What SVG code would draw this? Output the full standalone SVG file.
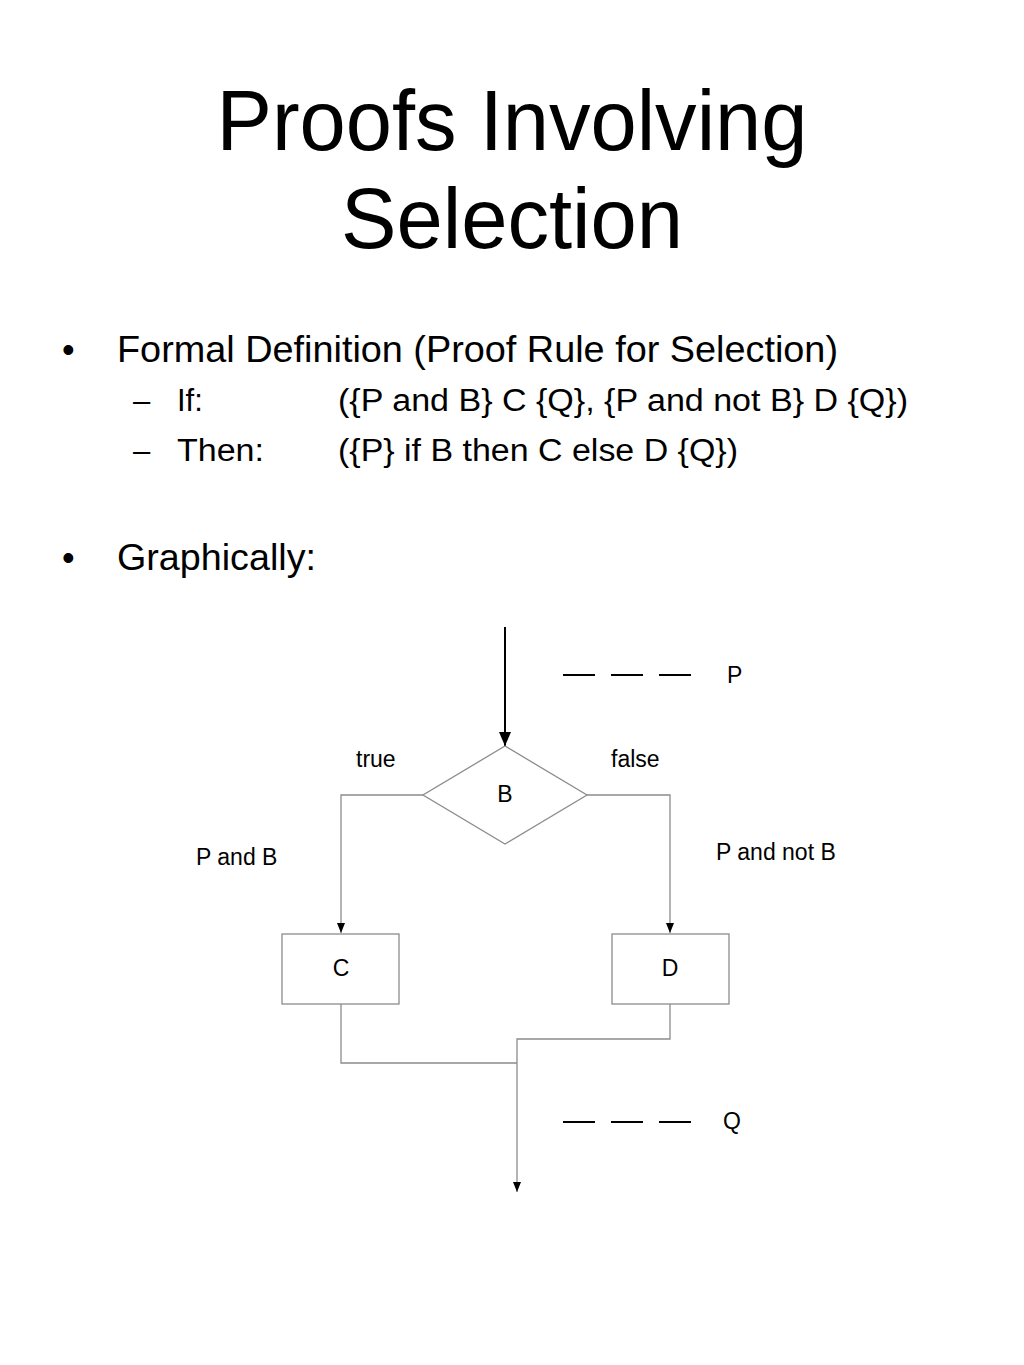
<svg xmlns="http://www.w3.org/2000/svg" width="1024" height="1365" viewBox="0 0 1024 1365">
<style>
text{font-family:"Liberation Sans",Arial,sans-serif;fill:#000}
.t{font-size:85px;text-anchor:middle}
.b1{font-size:36px}
.b2{font-size:31px}
.lbl{font-size:23px}
.ctr{text-anchor:middle}
.g{fill:none;stroke:#8c8c8c;stroke-width:1.3}
.box{fill:#fff;stroke:#8c8c8c;stroke-width:1.3}
.dash{stroke:#000;stroke-width:2}
</style>
<defs>
<marker id="big" markerWidth="12" markerHeight="14" refX="6" refY="14" markerUnits="userSpaceOnUse" viewBox="0 0 12 14">
<path d="M0,0 L12,0 L6,14 Z" fill="#000"/>
</marker>
<marker id="sm" markerWidth="8" markerHeight="10" refX="4" refY="10" markerUnits="userSpaceOnUse" viewBox="0 0 8 10">
<path d="M0,0 L8,0 L4,10 Z" fill="#000"/>
</marker>
</defs>
<rect width="1024" height="1365" fill="#fff"/>
<g id="title">
<text class="t" x="512" y="150" textLength="591" lengthAdjust="spacingAndGlyphs">Proofs Involving</text>
<text class="t" x="512" y="248" textLength="342" lengthAdjust="spacingAndGlyphs">Selection</text>
</g>
<g id="bullets">
<text class="b1" x="62" y="362">•</text>
<text class="b1" x="117" y="362" textLength="721" lengthAdjust="spacingAndGlyphs">Formal Definition (Proof Rule for Selection)</text>
<text class="b2" x="133" y="411">–</text>
<text class="b2" x="177" y="411">If:</text>
<text class="b2" x="338" y="411" textLength="570" lengthAdjust="spacingAndGlyphs">({P and B} C {Q}, {P and not B} D {Q})</text>
<text class="b2" x="133" y="461">–</text>
<text class="b2" x="177" y="461" textLength="87" lengthAdjust="spacingAndGlyphs">Then:</text>
<text class="b2" x="338" y="461" textLength="400" lengthAdjust="spacingAndGlyphs">({P} if B then C else D {Q})</text>
<text class="b1" x="62" y="570">•</text>
<text class="b1" x="117" y="570" textLength="199" lengthAdjust="spacingAndGlyphs">Graphically:</text>
</g>
<g id="connectors">
<line x1="505" y1="627" x2="505" y2="746" stroke="#000" stroke-width="2" marker-end="url(#big)"/>
<polyline class="g" points="423,795 341,795 341,933" marker-end="url(#sm)"/>
<polyline class="g" points="587,795 670,795 670,933" marker-end="url(#sm)"/>
<polyline class="g" points="341,1004 341,1063 517,1063"/>
<polyline class="g" points="670,1004 670,1039 517,1039 517,1192" marker-end="url(#sm)"/>
</g>
<g id="node-B">
<polygon class="box" points="505,746 587,795 505,844 423,795"/>
<text class="lbl ctr" x="505" y="802">B</text>
</g>
<g id="node-C">
<rect class="box" x="282" y="934" width="117" height="70"/>
<text class="lbl ctr" x="341" y="976">C</text>
</g>
<g id="node-D">
<rect class="box" x="612" y="934" width="117" height="70"/>
<text class="lbl ctr" x="670" y="976">D</text>
</g>
<g id="labels">
<text class="lbl" x="356" y="767">true</text>
<text class="lbl" x="611" y="767">false</text>
<text class="lbl" x="196" y="865">P and B</text>
<text class="lbl" x="716" y="860">P and not B</text>
</g>
<g id="assertion-P">
<line class="dash" x1="563" y1="675" x2="595" y2="675"/>
<line class="dash" x1="611" y1="675" x2="643" y2="675"/>
<line class="dash" x1="659" y1="675" x2="691" y2="675"/>
<text class="lbl" x="727" y="683">P</text>
</g>
<g id="assertion-Q">
<line class="dash" x1="563" y1="1122" x2="595" y2="1122"/>
<line class="dash" x1="611" y1="1122" x2="643" y2="1122"/>
<line class="dash" x1="659" y1="1122" x2="691" y2="1122"/>
<text class="lbl" x="723" y="1129">Q</text>
</g>
</svg>
